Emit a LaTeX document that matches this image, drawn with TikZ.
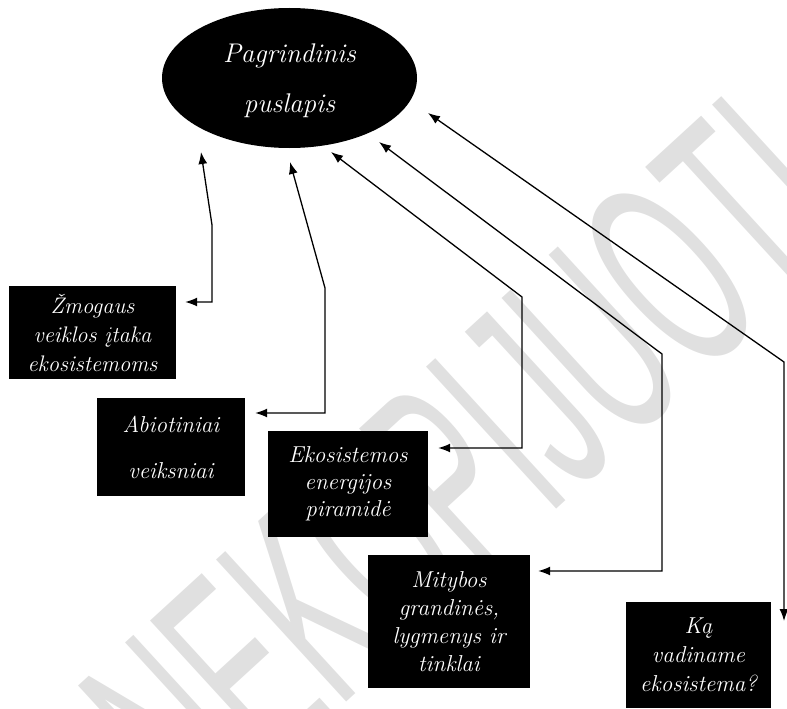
\documentclass[tikz,border=0pt]{standalone}
\usepackage{fontspec}
\newfontfamily\wmfont{Liberation Sans}
\usetikzlibrary{shapes.geometric,arrows.meta}
\begin{document}
\begin{tikzpicture}[x=1pt,y=-1pt,
  box/.style={fill=black, text=white, inner sep=0pt, align=center},
  conn/.style={line width=1.3pt, {Latex[length=12pt,width=9pt]}-{Latex[length=12pt,width=9pt]}},
  watermark/.style={inner sep=0pt, text=black!12, font=\wmfont\fontsize{280}{280}\selectfont}]
\useasboundingbox (0,0) rectangle (787,709);
\clip (0,0) rectangle (787,709);

% watermark
\node[watermark, rotate=42.5] (wm) at (466,462) {\scalebox{0.48}[1]{NEKOPIJUOTI}};

% main ellipse
\node[ellipse, fill=black, text=white, inner sep=0pt, align=center,
      minimum width=255pt, minimum height=140pt, text depth=0pt,
      font=\itshape\fontsize{27}{50}\selectfont] (main) at (289.5,78) {Pagrindinis\\puslapis};

% boxes
\node[box, minimum width=167pt, minimum height=93pt,
      font=\itshape\fontsize{22.5}{29}\selectfont]
  (b1) at (92.5,332.5) {Žmogaus\\veiklos įtaka\\ekosistemoms};
\node[box, minimum width=148pt, minimum height=98pt, font=\itshape\fontsize{23}{46}\selectfont]
  (b2) at (171,447) {Abiotiniai\\veiksniai};
\node[box, minimum width=160pt, minimum height=106pt, font=\itshape\fontsize{23}{27}\selectfont]
  (b3) at (348,484) {Ekosistemos\\energijos\\piramidė};
\node[box, minimum width=162pt, minimum height=133pt, font=\itshape\fontsize{23}{28}\selectfont]
  (b4) at (449,621.5) {Mitybos\\grandinės,\\lygmenys ir\\tinklai};
\node[box, minimum width=145pt, minimum height=106pt, font=\itshape\fontsize{23}{29}\selectfont]
  (b5) at (698.5,655) {Ką\\vadiname\\ekosistema?};

% connector points
\coordinate (t1) at (201,152);
\coordinate (k1) at (212,225);
\coordinate (h1) at (212,302);
\coordinate (t2) at (290,162);
\coordinate (k2) at (325,288);
\coordinate (h2) at (325,413);
\coordinate (t3) at (331,152);
\coordinate (k3) at (522,297);
\coordinate (h3) at (522,448);
\coordinate (t4) at (379,142);
\coordinate (k4) at (662,354);
\coordinate (h4) at (662,571);
\coordinate (t5) at (428,113);
\coordinate (k5) at (784,362);
\coordinate (e5) at (784,621);

% connectors
\draw[conn, shorten >=9pt] (t1) -- (k1) -- (h1) -- (b1.east |- h1);
\draw[conn, shorten >=10pt] (t2) -- (k2) -- (h2) -- (b2.east |- h2);
\draw[conn, shorten >=10pt] (t3) -- (k3) -- (h3) -- (b3.east |- h3);
\draw[conn, shorten >=8pt] (t4) -- (k4) -- (h4) -- (b4.east |- h4);
\draw[conn] (t5) -- (k5) -- (e5);
\end{tikzpicture}
\end{document}
